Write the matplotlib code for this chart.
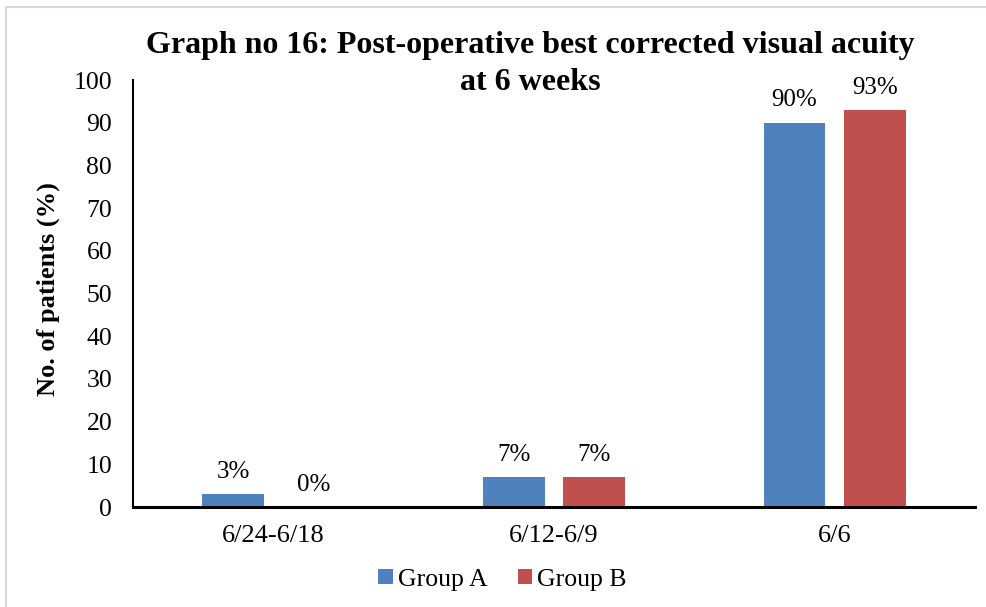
import matplotlib.pyplot as plt
from matplotlib.lines import Line2D
import numpy as np

categories = ['6/24-6/18', '6/12-6/9', '6/6']
group_a = [3, 7, 90]
group_b = [0, 7, 93]
series_names = ['Group A', 'Group B']
colors = ['#4f81bd', '#c0504d']
title_lines = ['Graph no 16: Post-operative best corrected visual acuity', 'at 6 weeks']

plt.rcParams['font.family'] = ['Liberation Serif', 'DejaVu Serif']

fig = plt.figure(figsize=(9.87, 6.07), dpi=100)
ax = fig.add_axes([0.1348, 0.1647, 0.8530, 0.7035])

x = np.arange(len(categories))
w = 0.22
off = 0.143
bars_a = ax.bar(x - off, group_a, w, color=colors[0], label=series_names[0])
bars_b = ax.bar(x + off, group_b, w, color=colors[1], label=series_names[1])

for bars, vals in ((bars_a, group_a), (bars_b, group_b)):
    for b, v in zip(bars, vals):
        ax.text(b.get_x() + b.get_width() / 2, v + 3.8, f'{v}%',
                ha='center', va='baseline', fontsize=18)

ax.set_xlim(-0.5, 2.5)
ax.set_ylim(0, 100)
ax.set_yticks(range(0, 101, 10))
ax.set_xticks(x)
ax.set_xticklabels(categories)
ax.tick_params(axis='both', length=0)
ax.tick_params(axis='y', pad=15, labelsize=18.5)
ax.tick_params(axis='x', pad=13, labelsize=19)
for s in ('top', 'right'):
    ax.spines[s].set_visible(False)
ax.spines['left'].set_linewidth(1.5)
ax.spines['bottom'].set_linewidth(2.2)

ax.set_ylabel('No. of patients (%)', fontsize=19, fontweight='bold')
ax.yaxis.set_label_coords(-0.087, 0.51)

# title drawn as two lines so the second line stays compact
fig.text(0.537, 1 - 45 / 607, title_lines[0], ha='center', va='center',
         fontsize=23, fontweight='bold')
fig.text(0.537, 1 - 83 / 607, title_lines[1], ha='center', va='center',
         fontsize=23, fontweight='bold')

ax.legend(loc='center', bbox_to_anchor=(0.439, -0.17), ncol=2, frameon=False,
          fontsize=18.5, handlelength=0.55, handleheight=0.55, handletextpad=0.2,
          columnspacing=1.2)

# light frame around chart area
fig.add_artist(Line2D([0.006, 0.006], [0, 0.988], transform=fig.transFigure,
                      color='#d9d9d9', lw=1.5))
fig.add_artist(Line2D([0.006, 1], [0.988, 0.988], transform=fig.transFigure,
                      color='#d9d9d9', lw=1.5))

fig.savefig('out.png', dpi=100)
